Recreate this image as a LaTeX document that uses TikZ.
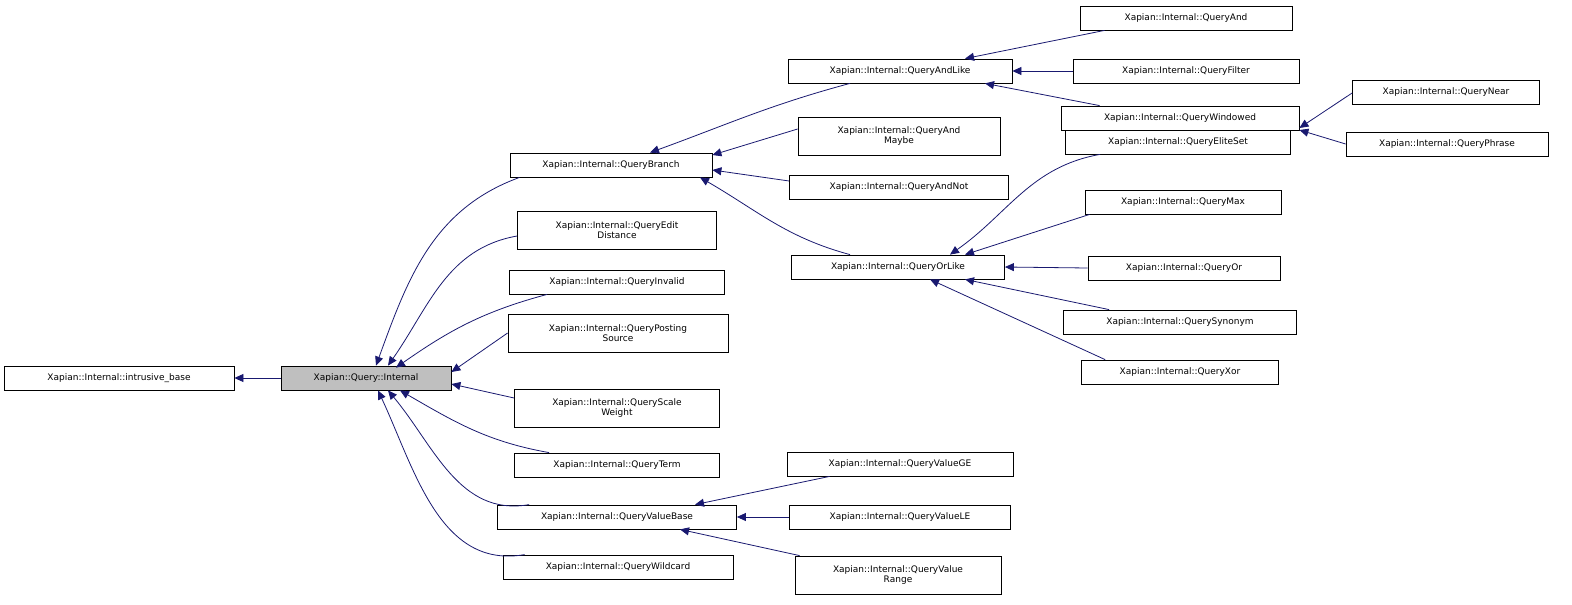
\documentclass[tikz,border=0pt]{standalone}
\usepackage{fontspec}
\setmainfont{DejaVu Sans}
\usetikzlibrary{arrows.meta}
\definecolor{edgec}{RGB}{25,25,112}
\begin{document}
\begin{tikzpicture}[x=1pt,y=-1pt,
  box/.style={draw=black,fill=white,inner sep=0pt,minimum height=24pt,align=center,font=\fontsize{9}{10.5}\selectfont,line width=0.8pt},
  box2/.style={box,minimum height=38pt},
  edge/.style={draw=edgec,line width=0.8pt,-{Triangle[length=9pt,width=8pt]}}]
\useasboundingbox (0,0) rectangle (1572,605);
\node[box,minimum width=230pt] (ib) at (119,378) {Xapian::Internal::intrusive\_base};
\node[box,minimum width=170pt,fill={rgb,255:red,191;green,191;blue,191}] (qi) at (366,378) {Xapian::Query::Internal};
\node[box,minimum width=202pt] (qb) at (611,165) {Xapian::Internal::QueryBranch};
\node[box2,minimum width=199pt] (qed) at (617,230) {Xapian::Internal::QueryEdit\\Distance};
\node[box,minimum width=215pt] (qinv) at (617,282) {Xapian::Internal::QueryInvalid};
\node[box2,minimum width=220pt] (qps) at (618,333) {Xapian::Internal::QueryPosting\\Source};
\node[box2,minimum width=205pt] (qsw) at (617,408) {Xapian::Internal::QueryScale\\Weight};
\node[box,minimum width=205pt] (qt) at (617,465) {Xapian::Internal::QueryTerm};
\node[box,minimum width=239pt] (qvb) at (617,517) {Xapian::Internal::QueryValueBase};
\node[box,minimum width=230pt] (qw) at (618,567) {Xapian::Internal::QueryWildcard};
\node[box,minimum width=224pt] (qal) at (900,71) {Xapian::Internal::QueryAndLike};
\node[box2,minimum width=202pt] (qam) at (899,136) {Xapian::Internal::QueryAnd\\Maybe};
\node[box,minimum width=219pt] (qan) at (899,187) {Xapian::Internal::QueryAndNot};
\node[box,minimum width=213pt] (qol) at (898,267) {Xapian::Internal::QueryOrLike};
\node[box,minimum width=212pt] (qa) at (1186,18) {Xapian::Internal::QueryAnd};
\node[box,minimum width=226pt] (qf) at (1186,71) {Xapian::Internal::QueryFilter};
\node[box,minimum width=238pt] (qwin) at (1180,118) {Xapian::Internal::QueryWindowed};
\node[box,minimum width=187pt] (qn) at (1446,92) {Xapian::Internal::QueryNear};
\node[box,minimum width=202pt] (qp) at (1447,144) {Xapian::Internal::QueryPhrase};
\node[box,minimum width=225pt] (qes) at (1178,142) {Xapian::Internal::QueryEliteSet};
\node[box,minimum width=196pt] (qm) at (1183,202) {Xapian::Internal::QueryMax};
\node[box,minimum width=192pt] (qo) at (1184,268) {Xapian::Internal::QueryOr};
\node[box,minimum width=233pt] (qs) at (1180,322) {Xapian::Internal::QuerySynonym};
\node[box,minimum width=197pt] (qx) at (1180,372) {Xapian::Internal::QueryXor};
\node[box,minimum width=226pt] (qge) at (900,464) {Xapian::Internal::QueryValueGE};
\node[box,minimum width=221pt] (qle) at (900,517) {Xapian::Internal::QueryValueLE};
\node[box2,minimum width=206pt] (qr) at (898,575) {Xapian::Internal::QueryValue\\Range};
% edges
\draw[edge] (qi.west) -- (ib.east);
\draw[edge] ([xshift=10pt]qb.south west) to[out=200,in=70] ([xshift=10pt]qi.north);
\draw[edge] ([yshift=-6pt]qed.west) to[out=190,in=55] ([xshift=22pt]qi.north);
\draw[edge] ([xshift=38pt]qinv.south west) to[out=195,in=35] ([xshift=30pt,yshift=-2pt]qi.north);
\draw[edge] (qps.west) -- ([yshift=6pt]qi.east);
\draw[edge] ([yshift=10pt]qsw.west) -- ([yshift=-6pt]qi.east);
\draw[edge] ([xshift=35pt]qt.north west) to[out=170,in=-30] ([xshift=34pt]qi.south);
\draw[edge] ([xshift=32pt]qvb.north west) to[out=190,in=-50] ([xshift=22pt]qi.south);
\draw[edge] ([xshift=22pt]qw.north west) to[out=190,in=-65] ([xshift=12pt]qi.south);
\draw[edge] ([xshift=-50pt]qal.south) to[out=195,in=20] ([xshift=39pt]qb.north);
\draw[edge] ([yshift=7pt]qam.west) -- ([yshift=10pt]qb.east);
\draw[edge] ([yshift=6pt]qan.west) -- ([yshift=-5pt]qb.east);
\draw[edge] ([xshift=-48pt]qol.north) to[out=165,in=-30] ([xshift=89pt]qb.south);
\draw[edge] ([xshift=25pt]qa.south west) -- ([xshift=65pt]qal.north);
\draw[edge] (qf.west) -- (qal.east);
\draw[edge] ([xshift=39pt]qwin.north west) -- ([xshift=85pt]qal.south);
\draw[edge] ([yshift=-1pt]qn.west) -- ([yshift=-10pt]qwin.east);
\draw[edge] (qp.west) -- ([yshift=-12pt]qwin.east);
\draw[edge] ([xshift=35pt]qes.south west) to[out=190,in=35] ([xshift=52pt]qol.north);
\draw[edge] ([xshift=5pt]qm.south west) -- ([xshift=67pt]qol.north);
\draw[edge] (qo.west) -- (qol.east);
\draw[edge] ([xshift=46pt]qs.north west) -- ([xshift=67pt]qol.south);
\draw[edge] ([xshift=24pt]qx.north west) -- ([xshift=32pt]qol.south);
\draw[edge] ([xshift=43pt]qge.south west) -- ([xshift=78pt]qvb.north);
\draw[edge] (qle.west) -- (qvb.east);
\draw[edge] ([xshift=5pt]qr.north west) -- ([xshift=63pt]qvb.south);
\end{tikzpicture}
\end{document}
